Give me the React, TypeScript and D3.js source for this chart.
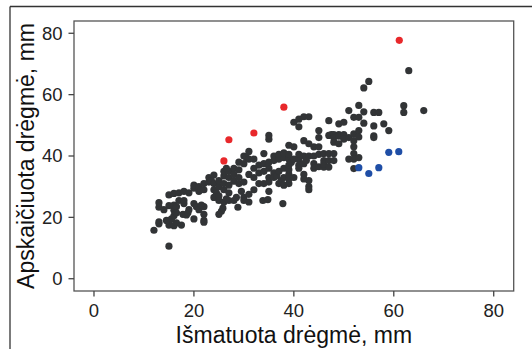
import React from "react";
import * as d3 from "d3";

// Measured vs. calculated moisture (mm)
const darkX = [
  12, 13, 13, 13, 13, 14, 15, 15, 15, 15.5, 16, 16, 16.5, 16, 15, 16, 16.5, 15, 16, 17, 17, 16.5, 17.5, 14.5,
  18, 17.8, 18.5, 18.8, 18, 18, 19, 19, 20, 20, 20, 20, 20.5, 21, 21, 21, 21.5, 22, 22, 22, 22, 22, 22, 21.5,
  23, 23, 23.5, 24, 24, 24, 24.5, 24, 25, 25, 25, 25, 25.5, 25, 25.8, 26, 26, 26, 26, 26, 26.5, 27, 27, 27, 27, 27, 26.5,
  28, 28, 28, 28, 28.5, 28.8, 29, 29, 29, 29, 29.5, 30, 30, 30, 30, 30.5, 30, 31, 31, 31, 31, 31, 32, 32, 32, 32, 33, 33, 33,
  33.8, 34, 34, 34, 34, 34.8, 35, 35, 35, 35, 35, 35, 35, 36, 36, 36, 36, 36.6, 37, 37, 37, 37, 37.5, 37.8, 38, 38, 38, 38, 38,
  39, 39, 39, 39, 39, 39, 39, 39, 39.5, 40, 40, 40, 40, 41, 41, 41, 41, 41, 41, 42, 42, 42, 42, 42, 42, 43, 43, 43, 43, 43, 43, 42.5,
  44, 44, 44, 44, 45, 45, 45, 45, 45, 46, 46, 46, 46, 47, 47, 47, 47, 47, 47.5, 48, 48, 48, 48, 48, 49, 49, 49, 49,
  50, 50, 50, 51, 51, 51, 52, 52, 52, 52, 52, 52, 52, 53, 53, 53, 53, 53, 54, 54, 54, 55, 56, 56, 56, 56, 57, 58, 59, 62, 62, 63, 66,
];
const darkY = [
  15.8, 17.9, 18.5, 23.3, 24.8, 22.5, 10.6, 17.5, 18.8, 19.5, 17.3, 20.5, 18.2, 22.3, 23.8, 24, 23.5, 27.3, 27.8, 28, 25.5, 21.5, 17.5, 19,
  28.5, 21, 20.8, 21.5, 24.5, 25.5, 22.5, 28, 19.5, 29.5, 30.5, 24.5, 23.5, 28.5, 30, 22.5, 29, 21, 19, 18.4, 23.5, 29, 31, 24,
  31.5, 33, 32, 33.8, 31, 29, 28, 26.5, 27, 25.5, 30, 32, 22, 21, 23, 25, 29, 33.5, 35, 31, 26, 25.5, 28, 33, 35, 30.5, 36,
  25.5, 31.8, 34, 36, 26.5, 23.3, 33, 35.5, 38, 31, 28.5, 26.5, 31.5, 37.5, 40, 39.5, 25.5, 41.5, 39, 34, 27.5, 25, 33, 36, 39, 29, 31, 34.5, 37,
  25.5, 31, 35, 37.5, 40.8, 25.8, 33, 36, 38, 45.5, 46.7, 31.5, 28.5, 34.5, 38.5, 40, 33, 33.5, 39, 40.5, 35, 31, 32, 24.5, 36, 39.5, 41, 33, 30.5,
  31, 32.5, 34, 35.5, 37, 39, 40.5, 43.5, 38, 43, 39, 33, 51, 52, 49.5, 39, 37, 36, 40.5, 37.5, 40, 45, 52.8, 34, 32.5, 52.8, 44, 40, 32, 30, 29, 38.5,
  40, 43, 37.5, 36, 46, 48.3, 43, 40.5, 36.5, 40.8, 38.5, 36.4, 37.5, 46.7, 51.5, 40.8, 38.5, 36.4, 47, 47, 40.8, 38.5, 44.5, 46, 44, 50.5, 47, 46.5,
  51, 47, 45.5, 54.8, 39, 46, 52.6, 47.2, 45, 43, 40.8, 39, 35.9, 52.6, 56.5, 48.3, 46.2, 39.5, 54.4, 50.7, 62.2, 64.3, 54.2, 49.8, 46.6, 46, 54.2, 50.5, 48.3, 56.4, 54.2, 67.8, 54.8,
];
const redX = [61.1, 38, 32, 27, 26];
const redY = [77.7, 55.9, 47.5, 45.3, 38.4];
const blueX = [53, 55, 57, 59, 61];
const blueY = [36.2, 34.3, 36.2, 41.2, 41.4];
const xTicks = [0, 20, 40, 60, 80];
const yTicks = [0, 20, 40, 60, 80];
const xTitle = "Išmatuota drėgmė, mm";
const yTitle = "Apskaičiuota drėgmė, mm";

const W = 532;
const H = 349;
const L = 74;
const R = 513.7;
const T = 21;
const B = 291;

export default function App() {
  const x = d3.scaleLinear().domain([-4, 84]).range([L, R]);
  const y = d3.scaleLinear().domain([-4, 84]).range([B, T]);
  const font = "'Liberation Sans', Arial, sans-serif";
  const dark = darkX.map((v, i) => [v, darkY[i]]);
  const red = redX.map((v, i) => [v, redY[i]]);
  const blue = blueX.map((v, i) => [v, blueY[i]]);
  return (
    <svg
      width={W}
      height={H}
      style={{ position: "absolute", left: 0, top: 0, background: "#fff" }}
      fontFamily={font}
    >
      {/* outer frame */}
      <line x1={10} x2={W} y1={6.5} y2={6.5} stroke="#333" strokeWidth={1.3} />
      <line x1={10} x2={10} y1={6.5} y2={H} stroke="#333" strokeWidth={1.3} />

      {dark.map((d, i) => (
        <circle key={"d" + i} cx={x(d[0])} cy={y(d[1])} r={3.6} fill="#323436" />
      ))}
      {red.map((d, i) => (
        <circle key={"r" + i} cx={x(d[0])} cy={y(d[1])} r={3.6} fill="#e8282b" />
      ))}
      {blue.map((d, i) => (
        <circle key={"b" + i} cx={x(d[0])} cy={y(d[1])} r={3.6} fill="#1f4ea6" />
      ))}

      <rect x={L} y={T} width={R - L} height={B - T} fill="none" stroke="#555" strokeWidth={1.3} />

      {xTicks.map((t) => (
        <g key={"x" + t}>
          <line x1={x(t)} x2={x(t)} y1={B} y2={B + 5.5} stroke="#444" strokeWidth={1.3} />
          <text x={x(t)} y={316.5} textAnchor="middle" fontSize={18.5} fill="#222">
            {t}
          </text>
        </g>
      ))}
      {yTicks.map((t) => (
        <g key={"y" + t}>
          <line x1={L - 5.5} x2={L} y1={y(t)} y2={y(t)} stroke="#444" strokeWidth={1.3} />
          <text x={62.5} y={y(t)} dy="0.35em" textAnchor="end" fontSize={18.5} fill="#222">
            {t}
          </text>
        </g>
      ))}
      <text x={(L + R) / 2} y={343} textAnchor="middle" fontSize={23} fill="#111">
        {xTitle}
      </text>
      <text
        transform={`translate(33.5, ${(T + B) / 2}) rotate(-90)`}
        textAnchor="middle"
        fontSize={23}
        fill="#111"
      >
        {yTitle}
      </text>
    </svg>
  );
}
